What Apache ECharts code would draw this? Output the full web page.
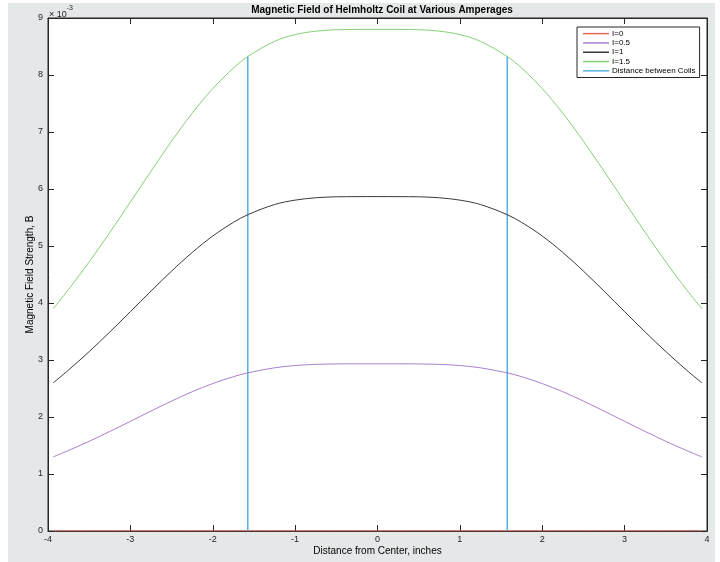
<!DOCTYPE html>
<html>
<head>
<meta charset="utf-8">
<script src="https://cdn.jsdelivr.net/npm/echarts@6/dist/echarts.min.js"></script>
<style>
  html, body { margin: 0; padding: 0; background: #ffffff; }
  #bg { position: absolute; left: 8px; top: 3px; width: 707px; height: 559px; background: #e5e8e8; }
  #chart { position: absolute; left: 0; top: 0; width: 720px; height: 562px; }
</style>
</head>
<body>
<div id="bg"></div>
<div id="chart"></div>
<script>
// Distance from center (inches)
const positions = [-3.9375, -3.75, -3.5, -3.25, -3, -2.75, -2.5, -2.25, -2, -1.75, -1.575, -1.25, -1, -0.75, -0.5, -0.25, 0,
  0.25, 0.5, 0.75, 1, 1.25, 1.575, 1.75, 2, 2.25, 2.5, 2.75, 3, 3.25, 3.5, 3.75, 3.9375];
// Magnetic field strength (x 10^-3)
const fieldI0 = [0, 0, 0, 0, 0, 0, 0, 0, 0, 0, 0, 0, 0, 0, 0, 0, 0,
  0, 0, 0, 0, 0, 0, 0, 0, 0, 0, 0, 0, 0, 0, 0, 0];
const fieldI05 = [1.300, 1.413, 1.574, 1.746, 1.924, 2.104, 2.279, 2.443, 2.587, 2.707, 2.774, 2.863, 2.903, 2.923, 2.931, 2.933, 2.933,
  2.933, 2.931, 2.923, 2.903, 2.863, 2.774, 2.707, 2.587, 2.443, 2.279, 2.104, 1.924, 1.746, 1.574, 1.413, 1.300];
const fieldI1 = [2.599, 2.825, 3.148, 3.491, 3.848, 4.208, 4.559, 4.886, 5.175, 5.414, 5.549, 5.727, 5.805, 5.846, 5.863, 5.866, 5.867,
  5.866, 5.863, 5.846, 5.805, 5.727, 5.549, 5.414, 5.175, 4.886, 4.559, 4.208, 3.848, 3.491, 3.148, 2.825, 2.599];
const fieldI15 = [3.899, 4.238, 4.722, 5.237, 5.772, 6.312, 6.838, 7.329, 7.762, 8.121, 8.323, 8.590, 8.708, 8.769, 8.794, 8.800, 8.800,
  8.800, 8.794, 8.769, 8.708, 8.590, 8.323, 8.121, 7.762, 7.329, 6.838, 6.312, 5.772, 5.237, 4.722, 4.238, 3.899];
// Coil positions and the line tops
const coilPositions = [-1.575, 1.575];
const coilTops = [8.323, 8.323];
const xTickLabels = ['-4', '-3', '-2', '-1', '0', '1', '2', '3', '4'];
const yTickLabels = ['0', '1', '2', '3', '4', '5', '6', '7', '8', '9'];
const seriesNames = ['I=0', 'I=0.5', 'I=1', 'I=1.5', 'Distance between Coils'];

const colors = ['#e8665a', '#a97fcc', '#3a3a3a', '#84d076', '#5fb2df'];
const font = 'Liberation Sans, Arial, Helvetica, sans-serif';
const axisColor = '#262626';

function pairs(ys) { return positions.map((x, i) => [x, ys[i]]); }

const chart = echarts.init(document.getElementById('chart'), null, { renderer: 'canvas' });

const xBase = {
  type: 'value', min: -4, max: 4, interval: 1,
  axisLine: { show: true, onZero: false, lineStyle: { color: axisColor, width: 1 } },
  axisTick: { show: true, inside: true, length: 6, lineStyle: { color: axisColor } },
  splitLine: { show: false }
};
const yBase = {
  type: 'value', min: 0, max: 9, interval: 1,
  axisLine: { show: true, onZero: false, lineStyle: { color: axisColor, width: 1 } },
  axisTick: { show: true, inside: true, length: 6, lineStyle: { color: axisColor } },
  splitLine: { show: false }
};

const lineSeries = [fieldI0, fieldI05, fieldI1, fieldI15].map((d, i) => ({
  name: seriesNames[i], type: 'line', data: pairs(d), xAxisIndex: 0, yAxisIndex: 0,
  smooth: 0.35, symbol: 'none', showSymbol: false,
  lineStyle: { color: colors[i], width: 1 }, itemStyle: { color: colors[i] },
  z: 3, animation: false
}));

const coilSeries = coilPositions.map((x, i) => ({
  name: seriesNames[4], type: 'line', data: [[x, 0], [x, coilTops[i]]], xAxisIndex: 0, yAxisIndex: 0,
  symbol: 'none', showSymbol: false,
  lineStyle: { color: colors[4], width: 1.6 }, itemStyle: { color: colors[4] },
  z: 2, animation: false
}));

chart.setOption({
  animation: false,
  textStyle: { fontFamily: font },
  title: {
    text: 'Magnetic Field of Helmholtz Coil at Various Amperages',
    left: 377, top: 0, textAlign: 'center',
    textStyle: { fontSize: 10, fontWeight: 'bold', color: '#000', fontFamily: font }
  },
  grid: {
    left: 48, right: 13, top: 18, bottom: 31,
    show: true, backgroundColor: '#ffffff', borderColor: axisColor, borderWidth: 1
  },
  legend: {
    data: seriesNames.map((n, i) => ({ name: n, itemStyle: { color: colors[i] } })),
    orient: 'vertical', left: 577, top: 27,
    backgroundColor: '#ffffff', borderColor: axisColor, borderWidth: 1, borderRadius: 0,
    padding: [2, 4, 2, 6],
    icon: 'rect',
    itemWidth: 26, itemHeight: 1.5, itemGap: 0,
    textStyle: { fontSize: 8, lineHeight: 9.3, color: '#000', fontFamily: font, padding: [0, 0, 0, -2] }
  },
  xAxis: [
    Object.assign({}, xBase, {
      position: 'bottom',
      name: 'Distance from Center, inches', nameLocation: 'middle', nameGap: 15,
      nameMoveOverlap: false,
      nameTextStyle: { fontSize: 10, color: '#000', fontFamily: font },
      axisLabel: { fontSize: 9, color: axisColor, margin: 4, fontFamily: font,
        formatter: (v) => xTickLabels[Math.round(v) + 4] }
    }),
    Object.assign({}, xBase, { position: 'top', axisLabel: { show: false } })
  ],
  yAxis: [
    Object.assign({}, yBase, {
      position: 'left',
      name: 'Magnetic Field Strength, B', nameLocation: 'middle', nameGap: 13,
      nameMoveOverlap: false,
      nameTextStyle: { fontSize: 10, color: '#000', fontFamily: font },
      axisLabel: { fontSize: 9, color: axisColor, margin: 5, fontFamily: font,
        formatter: (v) => yTickLabels[Math.round(v)] }
    }),
    Object.assign({}, yBase, { position: 'right', axisLabel: { show: false } })
  ],
  graphic: [{
    type: 'text', left: 49, top: 5, z: 10,
    style: {
      text: '{a|× 10}{b|-3}', fontFamily: font,
      rich: {
        a: { fontSize: 9, fill: axisColor, fontFamily: font, verticalAlign: 'bottom', lineHeight: 14 },
        b: { fontSize: 7, fill: axisColor, fontFamily: font, verticalAlign: 'top', lineHeight: 14, padding: [0, 0, 3, 0] }
      }
    }
  }],
  series: lineSeries.concat(coilSeries)
});
</script>
</body>
</html>
